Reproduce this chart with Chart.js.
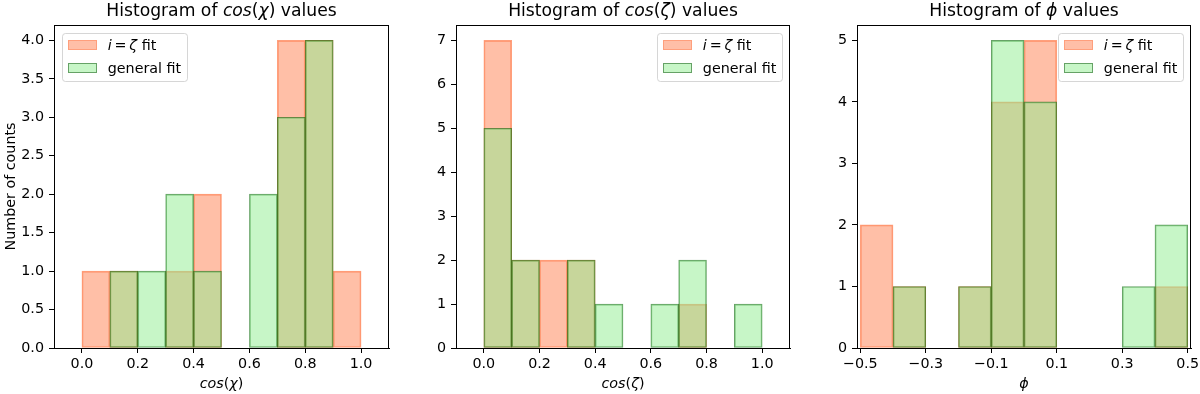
<!DOCTYPE html>
<html><head><meta charset="utf-8">
<script src="https://cdn.jsdelivr.net/npm/chart.js@4.4.1/dist/chart.umd.min.js"></script>
<style>
html,body{margin:0;padding:0;background:#fff;}
#wrap{position:relative;width:1200px;height:394px;overflow:hidden;background:#fff;}
canvas{position:absolute;top:0;}
</style></head><body>
<div id="wrap">
<canvas id="c1" width="400" height="394" style="left:0px"></canvas>
<canvas id="c2" width="400" height="394" style="left:400px"></canvas>
<canvas id="c3" width="400" height="394" style="left:800px"></canvas>
</div>
<script>
// ---- data ----
const binCentersCos = [0.05, 0.15, 0.25, 0.35, 0.45, 0.55, 0.65, 0.75, 0.85, 0.95];
const binCentersPhi = [-0.45, -0.35, -0.25, -0.15, -0.05, 0.05, 0.15, 0.25, 0.35, 0.45];

const cosChiIZeta   = [1, 1, 0, 1, 2, 0, 0, 4, 4, 1];
const cosChiGeneral = [0, 1, 1, 2, 1, 0, 2, 3, 4, 0];
const cosZetaIZeta   = [7, 2, 2, 2, 0, 0, 0, 1, 0, 0];
const cosZetaGeneral = [5, 2, 0, 2, 1, 0, 1, 2, 0, 1];
const phiIZeta   = [2, 1, 0, 1, 4, 5, 0, 0, 0, 1];
const phiGeneral = [0, 1, 0, 1, 5, 4, 0, 0, 1, 2];

const cosXTicks = [0, 0.2, 0.4, 0.6, 0.8, 1.0];
const cosXTickLabels = ['0.0', '0.2', '0.4', '0.6', '0.8', '1.0'];
const phiXTicks = [-0.5, -0.3, -0.1, 0.1, 0.3, 0.5];
const phiXTickLabels = ['\u22120.5', '\u22120.3', '\u22120.1', '0.1', '0.3', '0.5'];

const chiYTicks = [0, 0.5, 1, 1.5, 2, 2.5, 3, 3.5, 4];
const chiYTickLabels = ['0.0', '0.5', '1.0', '1.5', '2.0', '2.5', '3.0', '3.5', '4.0'];
const zetaYTicks = [0, 1, 2, 3, 4, 5, 6, 7];
const zetaYTickLabels = ['0', '1', '2', '3', '4', '5', '6', '7'];
const phiYTicks = [0, 1, 2, 3, 4, 5];
const phiYTickLabels = ['0', '1', '2', '3', '4', '5'];

const seriesNames = ['i = \u03b6 fit', 'general fit'];
// rich-text segments [text, italic]
const legendSegs = [
  [['i', true], ['\u2009=\u2009', false], ['\u03b6', true], [' fit', false]],
  [['general fit', false]]
];
const titleChi  = [['Histogram of ', false], ['cos', true], ['(', false], ['\u03c7', true], [')', false], [' values', false]];
const titleZeta = [['Histogram of ', false], ['cos', true], ['(', false], ['\u03b6', true], [')', false], [' values', false]];
const titlePhi  = [['Histogram of ', false], ['\u03d5', true], [' values', false]];
const xLabelChi  = [['cos', true], ['(', false], ['\u03c7', true], [')', false]];
const xLabelZeta = [['cos', true], ['(', false], ['\u03b6', true], [')', false]];
const xLabelPhi  = [['\u03d5', true]];
const yLabelText = 'Number of counts';

// ---- style ----
const FONT = '"DejaVu Sans", "Liberation Sans", sans-serif';
const TICK_PX = 14.3, TITLE_PX = 17.2;
const orangeFill = 'rgba(255,127,80,0.5)', orangeEdge = 'rgba(255,127,80,0.75)';
const greenFill = 'rgba(144,238,144,0.5)', greenEdge = 'rgba(0,100,0,0.6)';

function segFont(it, px) { return (it ? 'italic ' : '') + px + 'px ' + FONT; }
function drawSegs(ctx, segs, x, y, px, align) {
  let total = 0;
  const widths = segs.map(s => { ctx.font = segFont(s[1], px); const w = ctx.measureText(s[0]).width; total += w; return w; });
  let cx = align === 'center' ? x - total / 2 : (align === 'right' ? x - total : x);
  ctx.textAlign = 'left';
  segs.forEach((s, i) => { ctx.font = segFont(s[1], px); ctx.fillText(s[0], cx, y); cx += widths[i]; });
  return total;
}
function segsWidth(ctx, segs, px) {
  let t = 0; segs.forEach(s => { ctx.font = segFont(s[1], px); t += ctx.measureText(s[0]).width; }); return t;
}

const decorPlugin = {
  id: 'decor',
  afterDraw(chart) {
    const o = chart.options.plugins.decor;
    const { ctx, chartArea: a } = chart;
    ctx.save();
    // top & right spines
    ctx.strokeStyle = '#000'; ctx.lineWidth = 1;
    ctx.beginPath();
    const top = Math.round(a.top) + 0.5, right = Math.round(a.right) - 0.5;
    ctx.moveTo(Math.round(a.left), top); ctx.lineTo(right + 0.5, top);
    ctx.moveTo(right, top); ctx.lineTo(right, Math.round(a.bottom));
    ctx.stroke();
    // title and axis labels
    ctx.fillStyle = '#000'; ctx.textBaseline = 'alphabetic';
    const cx = (a.left + a.right) / 2;
    drawSegs(ctx, o.title, cx, 16, TITLE_PX, 'center');
    drawSegs(ctx, o.xLabel, cx, 388, TICK_PX, 'center');
    if (o.yLabel) {
      ctx.save();
      ctx.translate(15, (a.top + a.bottom) / 2);
      ctx.rotate(-Math.PI / 2);
      ctx.font = segFont(false, TICK_PX);
      ctx.textAlign = 'center';
      ctx.fillText(o.yLabel, 0, 0);
      ctx.restore();
    }
    // legend
    const padIn = 5.7, patchW = 28.6, patchH = 10, gap = 11.4, rowH = 23.2;
    const textW = Math.max(...legendSegs.map(s => segsWidth(ctx, s, TICK_PX)));
    const boxW = padIn + patchW + gap + textW + padIn;
    const boxH = 48;
    const bx = o.legendSide === 'left' ? a.left + 8 : a.right - 8 - boxW;
    const by = a.top + 8;
    ctx.fillStyle = 'rgba(255,255,255,0.8)';
    ctx.strokeStyle = 'rgba(204,204,204,0.8)';
    ctx.lineWidth = 1;
    ctx.beginPath();
    ctx.roundRect(Math.round(bx) + 0.5, Math.round(by) + 0.5, Math.round(boxW), Math.round(boxH), 3);
    ctx.fill(); ctx.stroke();
    chart.data.datasets.forEach((ds, i) => {
      const rc = by + 11.5 + i * rowH;
      const px = Math.round(bx + padIn), py = Math.round(rc - patchH / 2);
      ctx.fillStyle = ds.backgroundColor;
      ctx.fillRect(px + 1, py + 1, Math.round(patchW) - 2, patchH - 2);
      ctx.strokeStyle = ds.borderColor;
      ctx.strokeRect(px + 0.5, py + 0.5, Math.round(patchW) - 1, patchH - 1);
      ctx.fillStyle = '#000';
      ctx.textBaseline = 'alphabetic';
      drawSegs(ctx, legendSegs[i], bx + padIn + patchW + gap, rc + 5, TICK_PX, 'left');
    });
    ctx.restore();
  }
};

function makeChart(id, cfg) {
  const mk = (vals) => cfg.centers.map((x, i) => ({ x: x, y: vals[i] }));
  const tickFont = { family: FONT, size: TICK_PX };
  return new Chart(document.getElementById(id), {
    type: 'bar',
    data: {
      datasets: [
        { label: seriesNames[0], data: mk(cfg.orange), backgroundColor: orangeFill, borderColor: orangeEdge,
          borderWidth: 1, borderSkipped: false, order: 2, grouped: false, barPercentage: 1, categoryPercentage: 1 },
        { label: seriesNames[1], data: mk(cfg.green), backgroundColor: greenFill, borderColor: greenEdge,
          borderWidth: 1, borderSkipped: false, order: 1, grouped: false, barPercentage: 1, categoryPercentage: 1 }
      ]
    },
    options: {
      responsive: false, animation: false, devicePixelRatio: 1,
      layout: { padding: { left: 0, right: cfg.padRight, top: 25, bottom: 0 } },
      plugins: {
        legend: { display: false }, tooltip: { enabled: false }, title: { display: false },
        decor: { title: cfg.title, xLabel: cfg.xLabel, yLabel: cfg.yLabel, legendSide: cfg.legendSide }
      },
      scales: {
        x: {
          type: 'linear', min: cfg.xMin, max: cfg.xMax, offset: false,
          grid: { drawOnChartArea: false, drawTicks: true, tickLength: 5, color: '#000', lineWidth: 1, offset: false },
          border: { display: true, color: '#000', width: 1 },
          ticks: { font: tickFont, color: '#000', padding: 3, maxRotation: 0, autoSkip: false,
                   callback: (v, i) => cfg.xTickLabels[i] },
          afterBuildTicks: s => { s.ticks = cfg.xTicks.map(v => ({ value: v })); },
          afterFit: s => { s.height = 46; s.paddingLeft = 0; s.paddingRight = 0; }
        },
        y: {
          type: 'linear', min: 0, max: cfg.yMax,
          grid: { drawOnChartArea: false, drawTicks: true, tickLength: 5, color: '#000', lineWidth: 1 },
          border: { display: true, color: '#000', width: 1 },
          ticks: { font: tickFont, color: '#000', padding: 5, autoSkip: false,
                   callback: (v, i) => cfg.yTickLabels[i] },
          afterBuildTicks: s => { s.ticks = cfg.yTicks.map(v => ({ value: v })); },
          afterFit: s => { s.width = cfg.yWidth; s.paddingTop = 0; s.paddingBottom = 0; }
        }
      }
    },
    plugins: [decorPlugin]
  });
}

makeChart('c1', { centers: binCentersCos, orange: cosChiIZeta, green: cosChiGeneral,
  xMin: -0.1, xMax: 1.1, xTicks: cosXTicks, xTickLabels: cosXTickLabels,
  yMax: 4.2, yTicks: chiYTicks, yTickLabels: chiYTickLabels,
  yWidth: 54, padRight: 11, title: titleChi, xLabel: xLabelChi, yLabel: yLabelText, legendSide: 'left' });
makeChart('c2', { centers: binCentersCos, orange: cosZetaIZeta, green: cosZetaGeneral,
  xMin: -0.1, xMax: 1.1, xTicks: cosXTicks, xTickLabels: cosXTickLabels,
  yMax: 7.35, yTicks: zetaYTicks, yTickLabels: zetaYTickLabels,
  yWidth: 56, padRight: 10, title: titleZeta, xLabel: xLabelZeta, yLabel: null, legendSide: 'right' });
makeChart('c3', { centers: binCentersPhi, orange: phiIZeta, green: phiGeneral,
  xMin: -0.51, xMax: 0.51, xTicks: phiXTicks, xTickLabels: phiXTickLabels,
  yMax: 5.25, yTicks: phiYTicks, yTickLabels: phiYTickLabels,
  yWidth: 57, padRight: 9, title: titlePhi, xLabel: xLabelPhi, yLabel: null, legendSide: 'right' });
</script>
</body></html>
